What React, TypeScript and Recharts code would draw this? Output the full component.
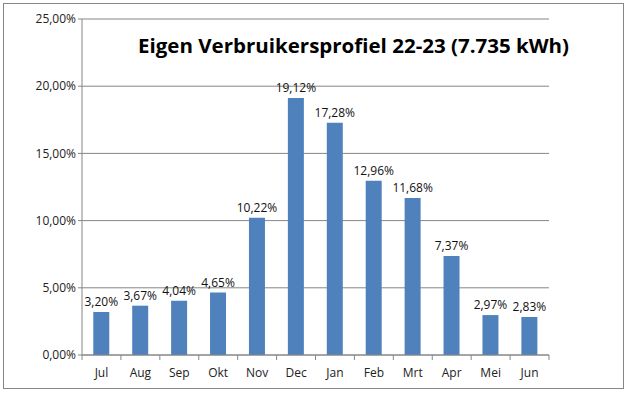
import React from 'react';
import { BarChart, Bar, XAxis, YAxis, CartesianGrid, LabelList } from 'recharts';

const months = ['Jul', 'Aug', 'Sep', 'Okt', 'Nov', 'Dec', 'Jan', 'Feb', 'Mrt', 'Apr', 'Mei', 'Jun'];
const shares = [3.2, 3.67, 4.04, 4.65, 10.22, 19.12, 17.28, 12.96, 11.68, 7.37, 2.97, 2.83];
const yTicks = [0, 5, 10, 15, 20, 25];

const data = months.map((m, i) => ({ month: m, share: shares[i] }));

const font = '"Open Sans", sans-serif';
const pct = (v: number) => v.toFixed(2).replace('.', ',') + '%';

const PLOT_W = 467;

const MonthTick = (props: any) => {
  const { x, y, payload, index } = props;
  const band = PLOT_W / months.length;
  return (
    <g>
      <line x1={x - band / 2} y1={y - 8} x2={x - band / 2} y2={y - 3} stroke="#868686" />
      {index === months.length - 1 && (
        <line x1={x + band / 2} y1={y - 8} x2={x + band / 2} y2={y - 3} stroke="#868686" />
      )}
      <text x={x} y={y + 14} textAnchor="middle" fontSize={12} fill="#222" fontFamily={font}>
        {payload.value}
      </text>
    </g>
  );
};

const App: React.FC = () => {
  return (
    <div style={{ position: 'absolute', left: 0, top: 0, width: 628, height: 393, background: '#fff' }}>
      <div
        style={{
          position: 'absolute',
          left: 3,
          top: 3,
          width: 619,
          height: 384,
          border: '1px solid #868686',
        }}
      />
      <div style={{ position: 'absolute', left: 0, top: 0 }}>
        <BarChart
          width={628}
          height={393}
          data={data}
          barCategoryGap="29%"
          margin={{ top: 19, right: 79, bottom: 8, left: 22 }}
        >
          <CartesianGrid vertical={false} stroke="#868686" />
          <XAxis
            dataKey="month"
            height={30}
            axisLine={{ stroke: '#868686' }}
            tickLine={false}
            tick={<MonthTick />}
            interval={0}
          />
          <YAxis
            width={60}
            domain={[0, 25]}
            ticks={yTicks}
            tickFormatter={pct}
            axisLine={{ stroke: '#868686' }}
            tickLine={{ stroke: '#868686' }}
            tickSize={4}
            tick={{ fontSize: 12, fill: '#222', fontFamily: font }}
          />
          <Bar dataKey="share" fill="#4F81BD" isAnimationActive={false}>
            <LabelList
              dataKey="share"
              position="top"
              offset={6}
              formatter={(v: any) => pct(Number(v))}
              style={{ fontSize: 12, fill: '#111', fontFamily: font }}
            />
          </Bar>
        </BarChart>
      </div>
      <svg style={{ position: 'absolute', left: 0, top: 0 }} width={628} height={80}>
        <text
          x={138}
          y={53}
          fontSize={20}
          fontWeight="bold"
          fontFamily={font}
          fill="#000"
          textLength={431}
          lengthAdjust="spacingAndGlyphs"
        >
          Eigen Verbruikersprofiel 22-23 (7.735 kWh)
        </text>
      </svg>
    </div>
  );
};

export default App;
